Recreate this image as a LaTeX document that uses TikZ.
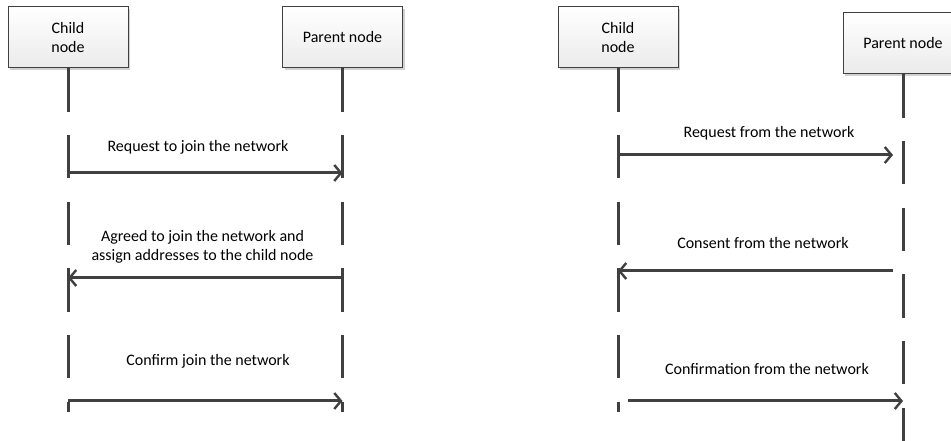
\documentclass[tikz,border=0pt]{standalone}
\usepackage{fontspec}
\setmainfont{Carlito}
\usetikzlibrary{arrows.meta,shadows,positioning}

\tikzset{
  actor/.style={draw=black!75,line width=0.75pt,top color=white,bottom color=black!8,
    minimum width=90pt,minimum height=45.75pt,align=center,inner sep=1pt,
    font=\fontsize{12}{14.25}\selectfont,
    drop shadow={shadow xshift=1.5pt,shadow yshift=-1.5pt,opacity=0.3,fill=black!60}},
  lifeline/.style={line width=2.25pt,draw=black!75,dash pattern=on 32.5pt off 17.5pt},
  msg/.style={line width=2.25pt,draw=black!75,
    -{Straight Barb[length=5pt,width=12pt,line width=1.8pt]}},
  lbl/.style={font=\fontsize{12}{14.25}\selectfont,align=center}
}

\begin{document}
\begin{tikzpicture}[x=0.75pt,y=-0.75pt]
\useasboundingbox (0,0) rectangle (951,441);

% joining: child asks, parent assigns an address
\node[actor] (child1) at (68,37.5) {Child\\node};
\node[actor] (parent1) at (342.5,37.5) {Parent node};
\coordinate (child1end) at (68,412);
\coordinate (parent1end) at (342.5,412);
\draw[lifeline] (child1.south) -- (child1end);
\draw[lifeline] (parent1.south) -- (parent1end);

\coordinate (c1a) at (68,173);   \coordinate (p1a) at (342.5,173);
\coordinate (c1b) at (68,278);   \coordinate (p1b) at (342.5,278);
\coordinate (c1c) at (68,401);   \coordinate (p1c) at (342.5,401);
\draw[msg] (c1a) -- (p1a);
\draw[msg] (p1b) -- (c1b);
\draw[msg] (c1c) -- (p1c);
\node[lbl] (join) at (198,147) {Request to join the network};
\node[lbl] (agree) at (202.5,246.5) {Agreed to join the network and\\assign addresses to the child node};
\node[lbl] (confirm) at (208,361) {Confirm join the network};

% the same exchange seen from the network
\node[actor] (child2) at (618,37.5) {Child\\node};
\node[actor] (parent2) at (903,43.5) {Parent node};
\coordinate (child2end) at (618,412);
\coordinate (parent2end) at (903,445);
\draw[lifeline] (child2.south) -- (child2end);
\draw[lifeline] (parent2.south) -- (parent2end);

\coordinate (c2a) at (618,155);  \coordinate (p2a) at (893,155);
\coordinate (c2b) at (618,271);  \coordinate (p2b) at (893,271);
\coordinate (c2c) at (628,401);  \coordinate (p2c) at (903,401);
\draw[msg] (c2a) -- (p2a);
\draw[msg] (p2b) -- (c2b);
\draw[msg] (c2c) -- (p2c);
\node[lbl] (fromnet) at (769,133) {Request from the network};
\node[lbl] (consent) at (763,243) {Consent from the network};
\node[lbl] (confirmation) at (767,369) {Confirmation from the network};
\end{tikzpicture}
\end{document}
